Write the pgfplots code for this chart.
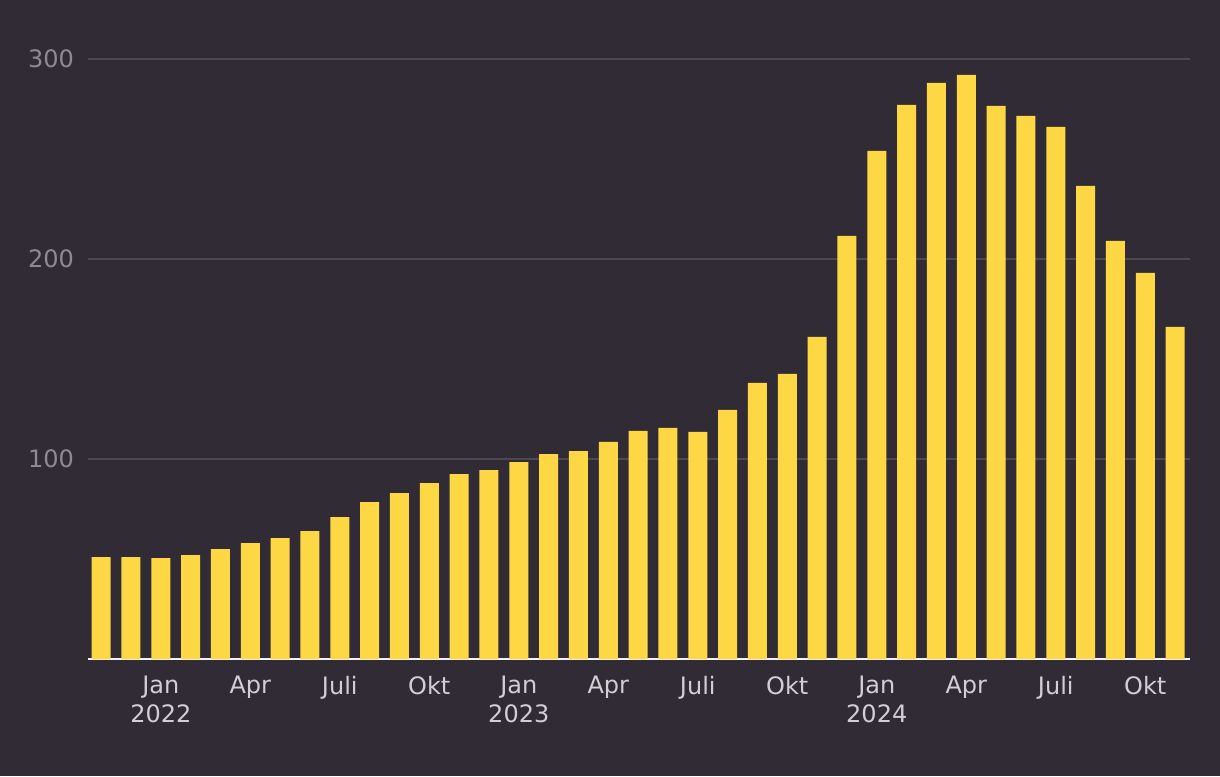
\documentclass[border=0pt]{standalone}
\usepackage{pgfplots}
\pgfplotsset{compat=1.18}
\usepackage{fontspec}
\setmainfont{DejaVu Sans}
\definecolor{bg}{HTML}{302B34}
\definecolor{bar}{HTML}{FDD844}
\definecolor{gridc}{HTML}{4E4950}
\definecolor{ylab}{HTML}{8E8A91}
\definecolor{xlab}{HTML}{D2CED3}
\begin{document}
\begin{tikzpicture}
\fill[bg] (-44pt,-58.5pt) rectangle (566pt,329.5pt);
\useasboundingbox (-44pt,-58.5pt) rectangle (566pt,329.5pt);
\begin{axis}[
  scale only axis, width=551pt, height=300pt,
  xmin=-0.44, xmax=36.5, ymin=0, ymax=300,
  axis x line*=bottom, axis y line*=left,
  y axis line style={draw=none},
  x axis line style={draw=white!95!black, line width=1pt, -},
  major tick length=0pt,
  ytick={100,200,300},
  ymajorgrids, grid style={color=gridc, line width=0.9pt},
  xtick={2,5,8,11,14,17,20,23,26,29,32,35},
  xticklabels={Jan\\2022,Apr,Juli,Okt,Jan\\2023,Apr,Juli,Okt,Jan\\2024,Apr,Juli,Okt},
  xticklabel style={align=center, font=\fontsize{12}{14.5}\selectfont, text=xlab, yshift=-5pt},
  yticklabel style={font=\fontsize{12}{14.5}\selectfont, text=ylab, xshift=-3.5pt},
  /pgf/number format/assume math mode=true,
]
\addplot[ybar, bar width=9.5pt, fill=bar, draw=none] coordinates {
(0,51) (1,51) (2,50.5) (3,52) (4,55) (5,58) (6,60.5) (7,64) (8,71) (9,78.5)
(10,83) (11,88) (12,92.5) (13,94.5) (14,98.5) (15,102.5) (16,104) (17,108.5)
(18,114) (19,115.5) (20,113.5) (21,124.5) (22,138) (23,142.5) (24,161)
(25,211.5) (26,254) (27,277) (28,288) (29,292) (30,276.5) (31,271.5)
(32,266) (33,236.5) (34,209) (35,193) (36,166)
};
\end{axis}
\end{tikzpicture}
\end{document}
